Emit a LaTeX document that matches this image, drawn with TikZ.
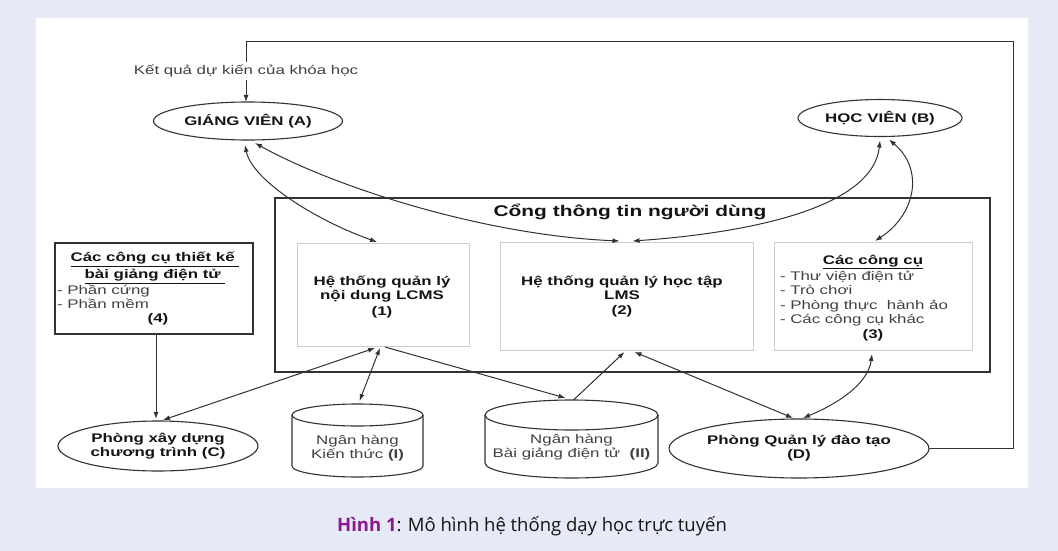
\documentclass[tikz,border=0pt]{standalone}
\usepackage{fontspec}
\setmainfont{Liberation Sans}[FakeStretch=1.35]
\newfontfamily\capfont{Open Sans}
\usetikzlibrary{arrows.meta,shapes.geometric,calc}
\definecolor{pagebg}{RGB}{230,234,246}
\definecolor{ln}{RGB}{50,50,50}
\definecolor{lite}{RGB}{205,205,205}
\definecolor{txt}{RGB}{20,20,20}
\definecolor{gtxt}{RGB}{65,65,65}
\definecolor{hinh}{RGB}{140,25,140}
\begin{document}
\begin{tikzpicture}[x=1pt,y=-1pt,
  every node/.style={inner sep=0pt,outer sep=0pt},
  ell/.style={ellipse,draw=ln,line width=1.1pt,fill=white,align=center,text=txt,
    font=\bfseries\fontsize{12.5}{14}\selectfont},
  btext/.style={text=txt,font=\bfseries\fontsize{12.5}{14}\selectfont,align=center},
  rtext/.style={text=gtxt,font=\fontsize{12.5}{14}\selectfont,align=left},
  conn/.style={draw=ln,line width=1pt},
  tip/.style={-{Latex[length=7pt,width=5pt]}},
  tips/.style={{Latex[length=7pt,width=5pt]}-{Latex[length=7pt,width=5pt]}},
  cyl/.style={draw=ln,line width=1.1pt}
]
\fill[pagebg] (0,0) rectangle (1058,551);
\fill[white] (36,18) rectangle (1028,488);
\useasboundingbox (0,0) rectangle (1058,551);

% portal
\node[draw=ln,line width=1.2pt,minimum width=715pt,minimum height=174pt] (P) at (632.5,285) {};
\node[btext,font=\bfseries\fontsize{15.5}{18}\selectfont] (Pt) at (630,212) {Cổng thông tin người dùng};

% inner boxes
\node[draw=lite,line width=0.9pt,minimum width=172pt,minimum height=103pt] (L1) at (383,294.5) {};
\node[btext,font=\bfseries\fontsize{12.5}{13.5}\selectfont] (L1t) at (382,297)
  {Hệ thống quản lý\\nội dung LCMS\\[3pt](1)};
\node[draw=lite,line width=0.9pt,minimum width=253pt,minimum height=108pt] (L2) at (626.5,296) {};
\node[btext,font=\bfseries\fontsize{12.5}{13.5}\selectfont] (L2t) at (622,296.5)
  {Hệ thống quản lý học tập\\LMS\\[2pt](2)};
\node[draw=lite,line width=0.9pt,minimum width=198pt,minimum height=108pt] (L3) at (873,296) {};
\node[btext] (L3t) at (873,262) {\underline{Các công cụ}};
\node[rtext,anchor=north west] (L3b) at (780,271.5)
  {- Thư viện điện tử\\- Trò chơi\\[1pt]- Phòng thực\ \ hành ảo\\- Các công cụ khác};
\node[btext] (L3n) at (873,335) {(3)};

% box 4
\node[draw=ln,line width=1.1pt,minimum width=198pt,minimum height=91pt] (B4) at (154,288.5) {};
\node[btext] (B4t) at (155,268) {\underline{Các công cụ thiết kế\ }\\[3pt]\underline{bài giảng điện tử\ }};
\node[rtext,anchor=north west] (B4b) at (57,284.5) {- Phần cứng\\- Phần mềm};
\node[btext] (B4n) at (158,319) {(4)};

% ellipses
\node[ell,minimum width=189pt,minimum height=38pt] (A) at (248,121) {GIÁNG VIÊN (A)};
\node[ell,minimum width=164pt,minimum height=37pt] (B) at (880,118) {HỌC VIÊN (B)};
\node[ell,minimum width=200pt,minimum height=50pt] (C) at (158,446) {Phòng xây dựng\\chương trình (C)};
\node[ell,minimum width=252pt,minimum height=59pt] (D) at (799,448.5) {Phòng Quản lý đào tạo\\(D)};

% cylinders
\draw[cyl,fill=white] (292,415) -- (292,466) arc[start angle=180,end angle=360,x radius=65.5pt,y radius=11pt] -- (423,415);
\draw[cyl] (357.5,415) ellipse[x radius=65.5pt,y radius=11pt];
\node[minimum width=131pt,minimum height=73pt] (I) at (357.5,440.5) {};
\node[rtext,align=center] (It) at (357.5,448) {Ngân hàng\\Kiến thức \textbf{(I)}};

\draw[cyl,fill=white] (485,415) -- (485,463) arc[start angle=180,end angle=360,x radius=86.5pt,y radius=15pt] -- (658,415);
\draw[cyl] (571.5,415) ellipse[x radius=86.5pt,y radius=15pt];
\node[minimum width=173pt,minimum height=78pt] (II) at (571.5,439) {};
\node[rtext,align=center] (IIt) at (571.5,447) {Ngân hàng\\Bài giảng điện tử\ \ \textbf{(II)}};

% feedback loop
\node[rtext,inner sep=3pt] (K) at (246,71) {Kết quả dự kiến của khóa học};
\coordinate (fb) at (1013,42);
\draw[conn] (D.east) -| (fb) -| (K.north);
\draw[conn,tip] (K.south) -- (K.south |- A.north);

% connectors
\coordinate (b4s) at ($(B4.south)+(2,0)$);
\coordinate (ctop) at ($(C.north)+(0,-2)$);
\draw[conn,tip] (b4s) -- (b4s |- ctop);
\draw[conn,tips] ($(A.south)+(-3,5)$) .. controls (252,180) and (315,220) .. ($(L1.north)+(-6,-1)$);
\draw[conn,tips] ($(A.south)+(7,3)$) .. controls (330,185) and (480,235) .. ($(L2.north)+(-7,-1)$);
\draw[conn,tips] ($(B.south)+(0,4)$) .. controls (872,215) and (720,235) .. ($(L2.north)+(6,-1)$);
\draw[conn,tips] ($(B.south)+(9,3)$) .. controls (925,170) and (915,215) .. ($(L3.north)+(2,-1)$);
\draw[conn,tips] ($(L3.south)+(-1,4)$) .. controls (868,385) and (835,405) .. ($(D.north)+(4,-1)$);
\draw[conn,tips] ($(L2.south)+(8,2)$) -- ($(D.north)+(-6,-1)$);
\draw[conn,tips] ($(L1.south)+(-8,2)$) -- ($(C.north)+(5,-1)$);
\draw[conn,tips] ($(L1.south)+(-3,2)$) -- ($(I.north)+(2,-3)$);
\draw[conn,tip] ($(L1.south)+(2,1)$) -- ($(II.north)+(-6,-2)$);
\draw[conn,tip] ($(II.north)+(2,0)$) -- ($(L2.south)+(-2,2)$);

% caption
\node[font=\capfont\fontsize{18.5}{22}\selectfont,text=txt] (cap) at (532,526)
  {\textcolor{hinh}{\bfseries Hình 1}: Mô hình hệ thống dạy học trực tuyến};
\end{tikzpicture}
\end{document}
